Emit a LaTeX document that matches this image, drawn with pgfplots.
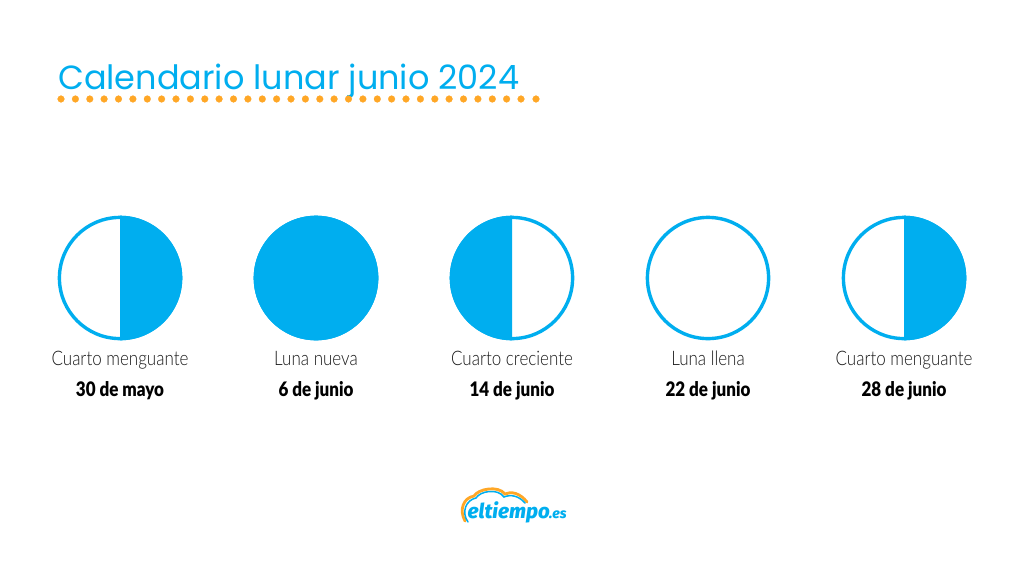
\documentclass[border=0pt]{standalone}
\usepackage{fontspec}
\usepackage{pgfplots}
\pgfplotsset{compat=1.18}
\setmainfont{Lato}
\newfontfamily\titlefont{Poppins}
\newfontfamily\lightfont[FakeStretch=0.85]{Lato Light}
\newfontfamily\boldfont[FakeStretch=0.85]{Lato Black}
\newfontfamily\logofont{Fira Sans ExtraBold Italic}
\definecolor{moon}{HTML}{00AEEF}
\definecolor{dot}{HTML}{FFA726}
\pgfdeclareplotmark{halfright}{%
  \pgfpathmoveto{\pgfqpoint{0pt}{\pgfplotmarksize}}%
  \pgfpatharc{90}{-90}{\pgfplotmarksize}%
  \pgfpathclose\pgfusepathqfill}
\pgfdeclareplotmark{halfleft}{%
  \pgfpathmoveto{\pgfqpoint{0pt}{\pgfplotmarksize}}%
  \pgfpatharc{90}{270}{\pgfplotmarksize}%
  \pgfpathclose\pgfusepathqfill}
\begin{document}
\begin{tikzpicture}[x=1pt,y=1pt]
\fill[white] (0,0) rectangle (1024,576);
\path[use as bounding box] (0,0) rectangle (1024,576);
\begin{axis}[at={(0,0)},anchor=south west,scale only axis,width=1024pt,height=576pt,
  xmin=0,xmax=1024,ymin=0,ymax=576,y dir=reverse,axis lines=none,clip=false]
% title dots
\addplot[only marks,mark=*,mark size=3.4pt,color=dot,mark options={solid,line width=0.2pt,draw=dot,fill=dot}] coordinates {
(61,99)(75.4,99)(89.8,99)(104.1,99)(118.5,99)(132.9,99)(147.3,99)(161.6,99)(176,99)(190.4,99)(204.8,99)(219.1,99)
(233.5,99)(247.9,99)(262.3,99)(276.6,99)(291,99)(305.4,99)(319.8,99)(334.1,99)(348.5,99)(362.9,99)(377.3,99)(391.6,99)
(406,99)(420.4,99)(434.8,99)(449.1,99)(463.5,99)(477.9,99)(492.3,99)(506.6,99)(521,99)(536,99)};
% rings (every phase)
\addplot[only marks,mark=*,mark size=60.6pt,mark options={draw=moon,line width=3.4pt,fill=white}] coordinates {
(120,278)(316,278)(512,278)(708,278)(904,278)};
% lit halves
\addplot[only marks,mark=halfright,mark size=62.3pt,color=moon] coordinates {(120,278)(904,278)};
\addplot[only marks,mark=halfleft,mark size=62.3pt,color=moon] coordinates {(512,278)};
\addplot[only marks,mark=*,mark size=62.2pt,color=moon,mark options={solid,line width=0.2pt,draw=moon,fill=moon}] coordinates {(316,278)};
% text
\node[anchor=base west,text=moon,inner sep=0pt,font=\titlefont\fontsize{33.5}{40}\selectfont] at (axis cs:58,89) {Calendario lunar junio 2024};
\foreach \x/\a/\b in {120/Cuarto menguante/30 de mayo,316/Luna nueva/6 de junio,512/Cuarto creciente/14 de junio,708/Luna llena/22 de junio,904/Cuarto menguante/28 de junio}{
  \edef\tmp{\noexpand\node[anchor=base,text=black!90,inner sep=0pt,font=\noexpand\lightfont\noexpand\fontsize{20}{22}\noexpand\selectfont] at (axis cs:\x,365) {\a};
  \noexpand\node[anchor=base,text=black,inner sep=0pt,font=\noexpand\boldfont\noexpand\fontsize{20}{22}\noexpand\selectfont] at (axis cs:\x,396) {\b};}
  \tmp
}
% logo
\draw[line width=2.8pt,color=dot,line cap=round] (axis cs:465,521) .. controls (axis cs:459,510) and (axis cs:463,498) .. (axis cs:474,496) .. controls (axis cs:478,489) and (axis cs:498,485) .. (axis cs:505,494) .. controls (axis cs:511,491) and (axis cs:520,493) .. (axis cs:527,502);
\draw[line width=1.5pt,color=moon,line cap=round] (axis cs:468,522) .. controls (axis cs:461,512) and (axis cs:466,500) .. (axis cs:476,498) .. controls (axis cs:480,491) and (axis cs:498,488) .. (axis cs:504,497) .. controls (axis cs:511,494) and (axis cs:519,496) .. (axis cs:525,503);
\node[anchor=base west,text=moon,inner sep=0pt,font=\logofont\fontsize{20.5}{20}\selectfont] at (axis cs:467.5,518) {eltiempo};
\node[anchor=base west,text=moon,inner sep=0pt,font=\logofont\fontsize{14}{14}\selectfont] at (axis cs:549,518) {.es};
\end{axis}
\end{tikzpicture}
\end{document}
